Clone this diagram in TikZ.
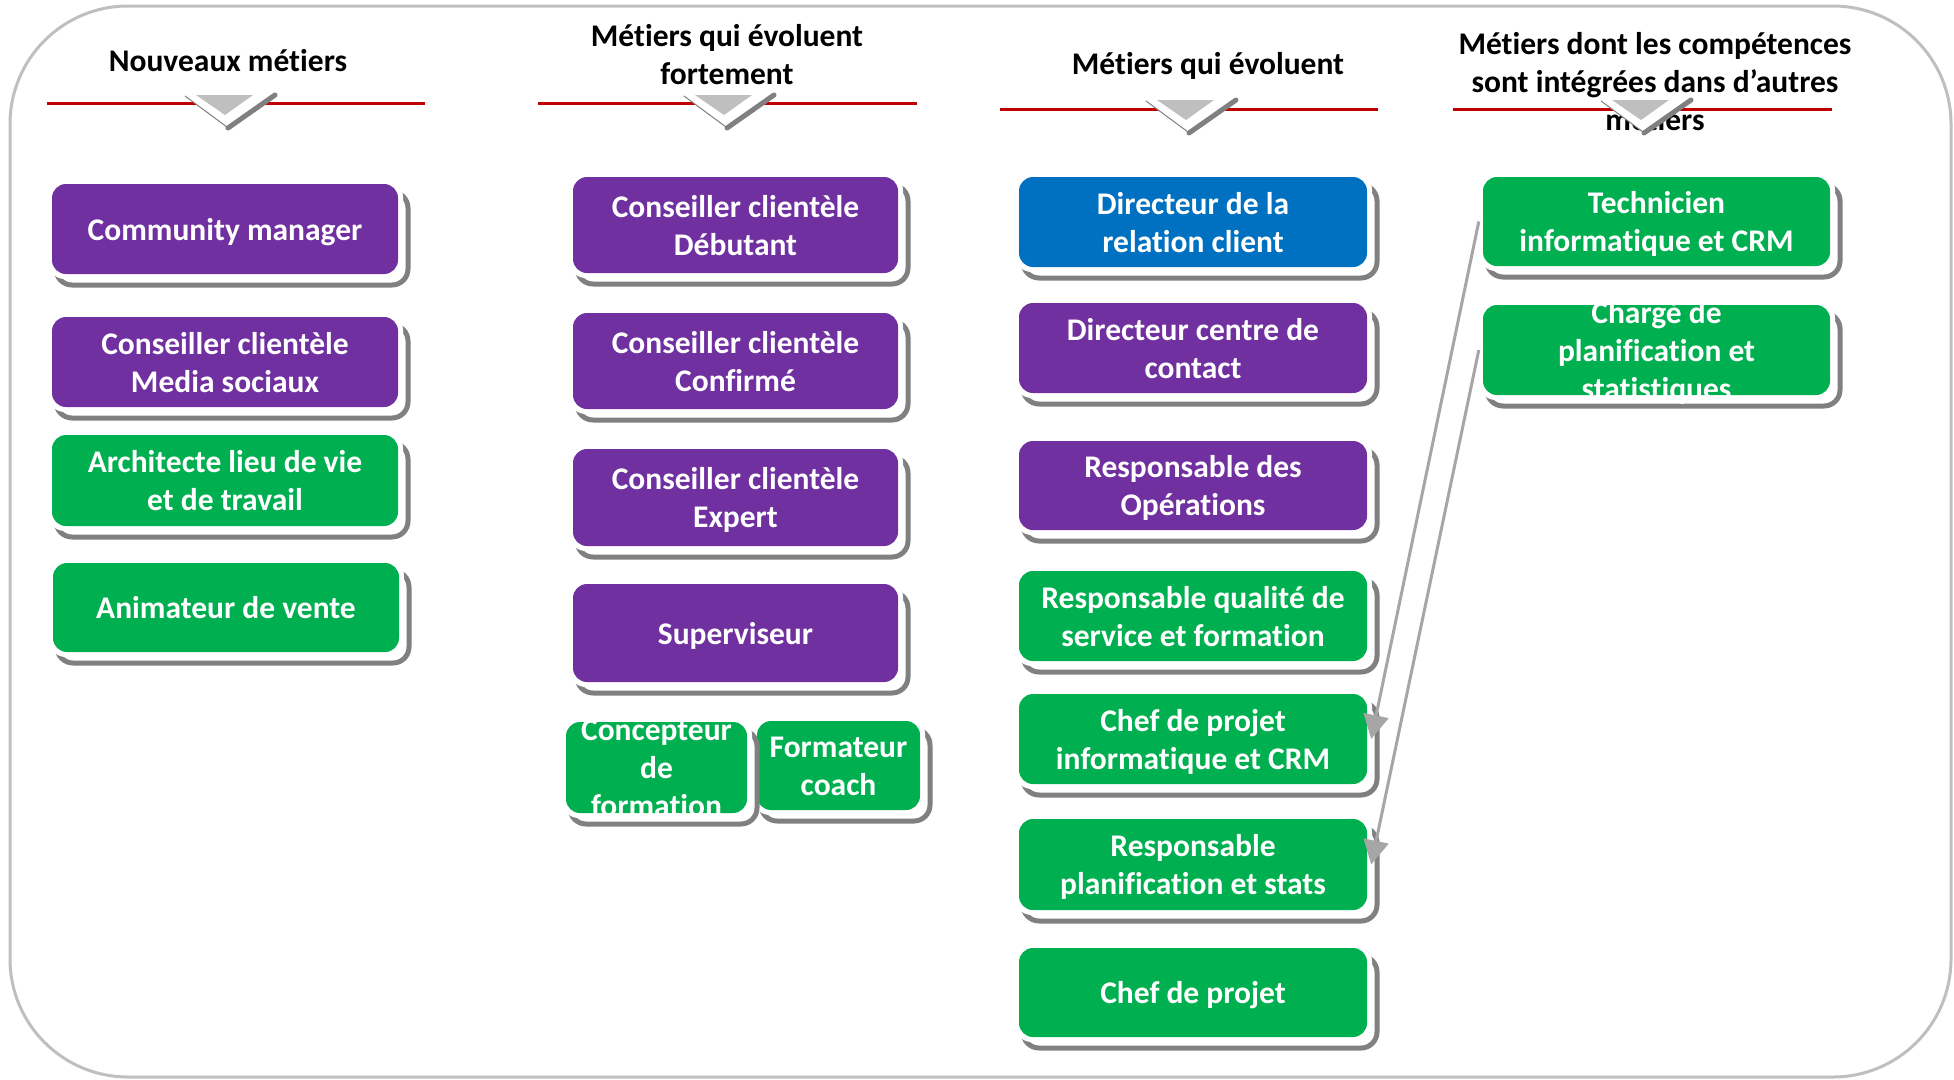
\documentclass[tikz,border=0pt]{standalone}
\usepackage{fontspec}
\setmainfont{Carlito}[Ligatures=NoCommon]
\usetikzlibrary{arrows.meta}
\definecolor{cpurple}{HTML}{7030A0}
\definecolor{cgreen}{HTML}{00B050}
\definecolor{cblue}{HTML}{0070C0}
\definecolor{cred}{HTML}{C00000}
\definecolor{cgray}{HTML}{BFBFBF}
\definecolor{cshadow}{HTML}{808080}
\definecolor{cconn}{HTML}{A6A6A6}
\newcommand\ls{\rule[-7pt]{0pt}{36pt}}
\tikzset{
  shadowln/.style={draw=cshadow, line width=5pt, fill=white, rounded corners=16pt},
  jobbox/.style={rectangle, rounded corners=14pt, inner sep=0pt, draw=none},
  jobtext/.style={text=white, align=center, inner sep=0pt, font=\fontsize{31.5}{38}\selectfont\bfseries},
  headtext/.style={text=black, align=center, inner sep=0pt, font=\fontsize{31.5}{38}\selectfont\bfseries},
  redline/.style={draw=cred, line width=3pt},
  conn/.style={draw=cconn, line width=3pt, -{Triangle[length=24pt,width=25pt]}},
}
% name, x1, y1, x2, y2, colour, text
\newcommand\jbox[7]{%
  \path[shadowln] (#2+4,#3+8) rectangle (#4+10,#5+11);
  \fill[white,rounded corners=18pt] (#2-5,#3-5) rectangle (#4+5,#5+5);
  \node[jobbox,fill=#6,minimum width={(#4-#2)*1pt},minimum height={(#5-#3)*1pt}] (#1) at ({(#2+#4)/2},{(#3+#5)/2}) {};
  \node[jobtext] (#1-t) at (#1.center) {\ls#7\ls};
}
\newcommand\chev[2]{%
  \fill[white] (#1-40,#2+1) -- (#1+50,#2-3) -- (#1+2,#2+32) -- cycle;
  \draw[cshadow, line width=1pt] (#1-40,#2+1) -- (#1+2,#2+32);
  \draw[cshadow, line width=5pt, line cap=round] (#1+3,#2+33) -- (#1+50,#2);
  \fill[cgray] (#1-29,#2) -- (#1+28,#2) -- (#1,#2+20) -- cycle;
}
\begin{document}
\begin{tikzpicture}[x=1pt,y=-1pt]
\useasboundingbox (0,0) rectangle (1954,1079);
\fill[white] (0,0) rectangle (1954,1079);
\draw[cgray, line width=3pt, rounded corners=118pt] (10,6) rectangle (1951,1077);

% headers
\node[headtext] (h1) at (228,60) {\ls Nouveaux métiers\ls};
\node[headtext] (h2) at (727,54) {\ls Métiers qui évoluent\\fortement\ls};
\node[headtext] (h3) at (1208,63) {\ls Métiers qui évoluent\ls};
\node[headtext] (h4) at (1655,81) {\ls Métiers dont les compétences\\sont intégrées dans d’autres\\métiers\ls};

\draw[redline] (47,103) -- (425,103);
\draw[redline] (538,103) -- (917,103);
\draw[redline] (1000,109) -- (1378,109);
\draw[redline] (1453,109) -- (1832,109);

\chev{225}{95}
\chev{724}{95}
\chev{1186}{100}
\chev{1641}{100}

% column 1
\jbox{comm}{52}{184}{398}{274}{cpurple}{Community manager}
\jbox{media}{52}{317}{398}{407}{cpurple}{Conseiller clientèle\\Media sociaux}
\jbox{archi}{52}{435}{398}{526}{cgreen}{Architecte lieu de vie\\et de travail}
\jbox{anim}{53}{563}{399}{652}{cgreen}{Animateur de vente}

% column 2
\jbox{debut}{573}{177}{898}{273}{cpurple}{Conseiller clientèle\\Débutant}
\jbox{confirme}{573}{313}{898}{409}{cpurple}{Conseiller clientèle\\Confirmé}
\jbox{expert}{573}{449}{898}{546}{cpurple}{Conseiller clientèle\\Expert}
\jbox{superv}{573}{584}{898}{682}{cpurple}{Superviseur}
\jbox{formateur}{757}{721}{920}{810}{cgreen}{Formateur\\coach}
\jbox{concepteur}{566}{722}{747}{813}{cgreen}{Concepteur\\de\\formation}

% column 3
\jbox{dirrel}{1019}{177}{1367}{267}{cblue}{Directeur de la\\relation client}
\jbox{dircentre}{1019}{303}{1367}{393}{cpurple}{Directeur centre de\\contact}
\jbox{respop}{1019}{441}{1367}{530}{cpurple}{Responsable des\\Opérations}
\jbox{qualite}{1019}{571}{1367}{661}{cgreen}{Responsable qualité de\\service et formation}
\jbox{chefinfo}{1019}{694}{1367}{784}{cgreen}{Chef de projet\\informatique et CRM}
\jbox{respplan}{1019}{819}{1367}{910}{cgreen}{Responsable\\planification et stats}
\jbox{chefproj}{1019}{948}{1367}{1037}{cgreen}{Chef de projet}

% column 4
\jbox{tech}{1483}{177}{1830}{266}{cgreen}{Technicien\\informatique et CRM}
\jbox{charge}{1483}{305}{1830}{395}{cgreen}{Chargé de\\planification et\\statistiques}

% connectors
\draw[conn] ([xshift=-4pt]tech.west) -- ([xshift=4pt]chefinfo.east);
\draw[conn] ([xshift=-4pt]charge.west) -- ([xshift=4pt]respplan.east);
\end{tikzpicture}
\end{document}
